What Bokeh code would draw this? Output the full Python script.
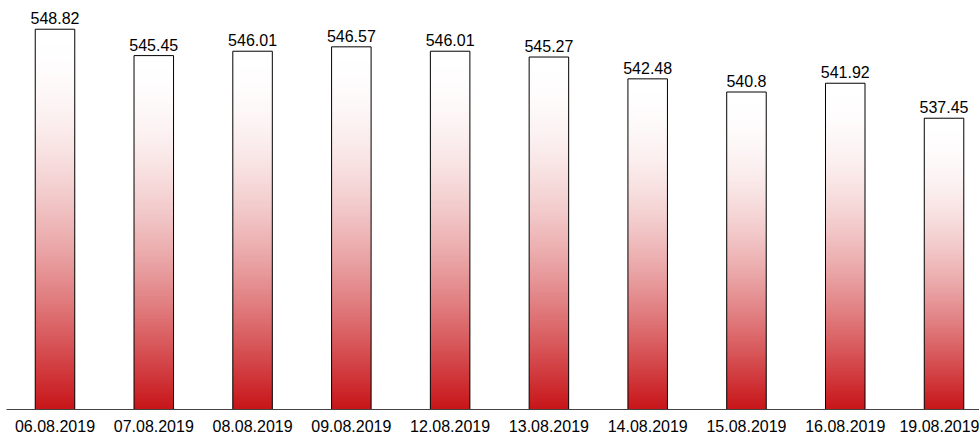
import numpy as np
from bokeh.plotting import figure
from bokeh.models import Range1d, FixedTicker
from bokeh.core.properties import value
from bokeh.embed import file_html
from bokeh.resources import INLINE

# ---- data ----
dates = ["06.08.2019", "07.08.2019", "08.08.2019", "09.08.2019", "12.08.2019",
         "13.08.2019", "14.08.2019", "15.08.2019", "16.08.2019", "19.08.2019"]
prices = [548.82, 545.45, 546.01, 546.57, 546.01, 545.27, 542.48, 540.8, 541.92, 537.45]
labels = [f"{v:g}" for v in prices]

# ---- layout constants ----
Y_START = 500.24
Y_END = 552.49
X_START = -0.491
X_END = 9.359
BAR_W = 0.4
FONT = "Liberation Sans"

idx = list(range(len(dates)))

p = figure(width=979, height=439, output_backend="svg", toolbar_location=None,
           x_range=Range1d(X_START, X_END), y_range=Range1d(Y_START, Y_END),
           y_axis_location=None,
           min_border_left=6, min_border_right=0, min_border_top=0,
           min_border_bottom=30)
p.outline_line_color = None
p.grid.visible = False
p.background_fill_color = "white"
p.border_fill_color = "white"

# vertical gradient (bottom red -> top white), drawn per bar
n = 256
t = np.linspace(0.0, 1.0, n)
f = np.sin(np.pi / 2 * t)
img = np.empty((n, 1), dtype=np.uint32)
view = img.view(dtype=np.uint8).reshape((n, 1, 4))
view[:, 0, 0] = np.round(200 + (255 - 200) * f).astype(np.uint8)
view[:, 0, 1] = np.round(22 + (255 - 22) * f).astype(np.uint8)
view[:, 0, 2] = np.round(26 + (255 - 26) * f).astype(np.uint8)
view[:, 0, 3] = 255

p.image_rgba(image=[img] * len(prices),
             x=[i - BAR_W / 2 for i in idx], y=[Y_START] * len(prices),
             dw=[BAR_W] * len(prices), dh=[v - Y_START for v in prices])

p.vbar(x=idx, top=prices, bottom=Y_START, width=BAR_W,
       fill_color=None, line_color="black", line_width=1)

p.text(x=idx, y=prices, text=labels, text_align="center",
       text_baseline="bottom", y_offset=-5,
       text_font=value(FONT), text_font_size="16px", text_color="black")

ax = p.xaxis[0]
ax.ticker = FixedTicker(ticks=idx)
ax.major_label_overrides = {i: d for i, d in enumerate(dates)}
ax.major_tick_line_color = None
ax.minor_tick_line_color = None
ax.major_tick_out = 0
ax.major_tick_in = 0
ax.axis_line_color = "#444444"
ax.axis_line_width = 1
ax.major_label_standoff = 10
ax.major_label_text_font = FONT
ax.major_label_text_font_size = "16px"
ax.major_label_text_color = "black"

open("out.html", "w").write(file_html(p, INLINE))
